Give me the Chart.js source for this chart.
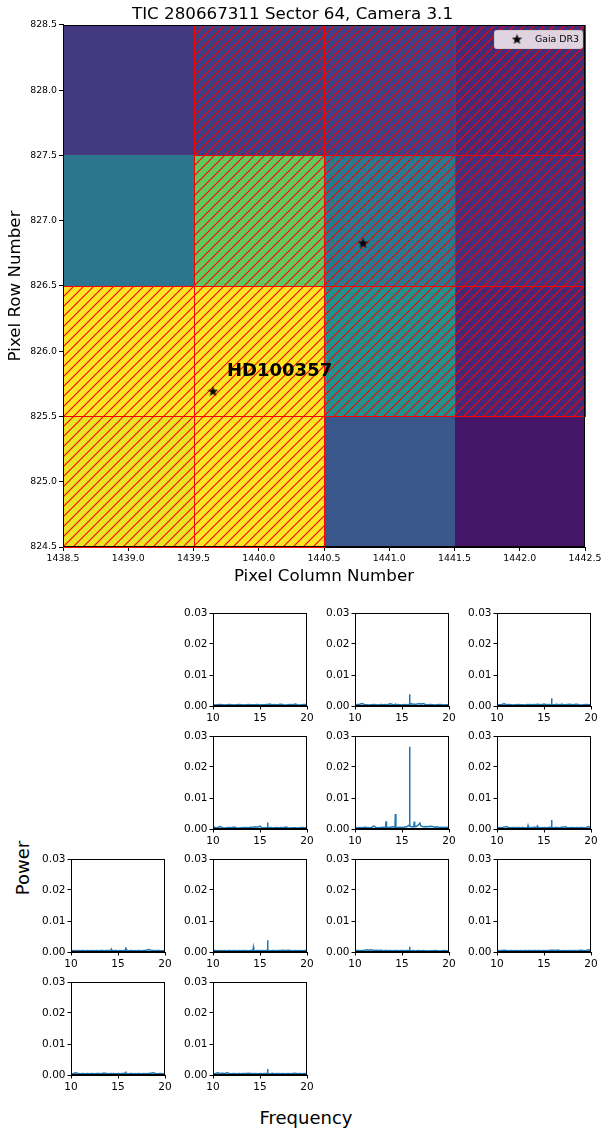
<!DOCTYPE html>
<html>
<head>
<meta charset="utf-8">
<script src="https://cdn.jsdelivr.net/npm/chart.js@4.4.1/dist/chart.umd.min.js"></script>
<style>
  html, body { margin: 0; padding: 0; background: #fff; }
  #fig { position: relative; width: 601px; height: 1132px; overflow: hidden; font-family: 'DejaVu Sans', sans-serif; }
  #fig canvas { position: absolute; }
  .suplabel { position: absolute; font-size: 18px; color: #000; white-space: nowrap; transform: translate(-50%, -50%); }
  #power-label { left: 22px; top: 868px; transform: translate(-50%, -50%) rotate(-90deg); }
  #freq-label { left: 306px; top: 1117px; }
</style>
</head>
<body>
<div id="fig">
  <canvas id="tpf" width="601" height="592" style="left:0;top:0"></canvas>
  <div class="suplabel" id="power-label">Power</div>
  <div class="suplabel" id="freq-label">Frequency</div>
</div>
<script>
// ========================= DADOS =========================
// pixel grid of the target pixel file (rows listed top to bottom)
const columns = [1439, 1440, 1441, 1442];
const rows = [828, 827, 826, 825];
// normalised flux per pixel (0 = faintest, 1 = brightest)
const flux = [
    [0.166, 0.181, 0.185, 0.122],
    [0.392, 0.756, 0.400, 0.140],
    [1.000, 1.000, 0.500, 0.112],
    [0.970, 1.000, 0.270, 0.060]
];
// aperture mask (hatched pixels)
const aperture = [
    [false, true, true, true],
    [false, true, true, true],
    [true, true, true, true],
    [true, true, false, false]
];
// Gaia DR3 sources
const gaiaCol = [1439.649, 1440.799];
const gaiaRow = [825.695, 826.830];
const targetName = 'HD100357';
const targetLabelCol = 1439.757;
const targetLabelRow = 825.845;

// periodogram frequency grid
const freq = [
    10.0, 10.25, 10.5, 10.75, 11.0, 11.25, 11.5, 11.75, 12.0, 12.25,
    12.5, 12.75, 13.0, 13.25, 13.3, 13.35, 13.5, 13.75, 14.0, 14.25,
    14.3, 14.35, 14.5, 14.75, 15.0, 15.25, 15.5, 15.75, 15.8, 15.85,
    16.0, 16.25, 16.3, 16.35, 16.5, 16.75, 16.9, 17.0, 17.25, 17.5,
    17.75, 18.0, 18.25, 18.5, 18.75, 19.0, 19.25, 19.5, 19.75, 20.0
];
const power1440_828 = [
    0.0004,0.0003,0.0004,0.0005,0.0004,0.0003,0.0004,0.0005,0.0004,0.0003,
    0.0004,0.0005,0.0004,0.0003,0.0004,0.0004,0.0003,0.0005,0.0004,0.0004,
    0.0004,0.0003,0.0004,0.0005,0.0003,0.0004,0.0004,0.0005,0.0006,0.0004,
    0.0006,0.0004,0.0003,0.0004,0.0005,0.0004,0.0004,0.0005,0.0006,0.0004,
    0.0003,0.0004,0.0005,0.0004,0.0006,0.0004,0.0003,0.0004,0.0005,0.0004
];
const power1441_828 = [
    0.0004,0.0005,0.0006,0.0008,0.0005,0.0004,0.0003,0.0004,0.0005,0.0004,
    0.0003,0.0005,0.0004,0.0005,0.0004,0.0004,0.0005,0.0007,0.0005,0.0004,
    0.0006,0.0004,0.0005,0.0004,0.0003,0.0005,0.0004,0.0005,0.0038,0.0006,
    0.0007,0.0005,0.0006,0.0005,0.0006,0.0007,0.0008,0.0006,0.0008,0.0005,
    0.0004,0.0005,0.0004,0.0003,0.0004,0.0005,0.0004,0.0003,0.0004,0.0004
];
const power1442_828 = [
    0.0004,0.0004,0.0005,0.0007,0.0004,0.0005,0.0004,0.0003,0.0004,0.0005,
    0.0004,0.0004,0.0003,0.0005,0.0004,0.0004,0.0005,0.0004,0.0005,0.0004,
    0.0006,0.0004,0.0005,0.0004,0.0006,0.0004,0.0005,0.0004,0.0025,0.0005,
    0.0004,0.0005,0.0006,0.0004,0.0005,0.0004,0.0006,0.0005,0.0004,0.0005,
    0.0006,0.0004,0.0005,0.0006,0.0004,0.0003,0.0004,0.0005,0.0004,0.0004
];
const power1440_827 = [
    0.0008,0.0004,0.0005,0.0008,0.0004,0.0003,0.0004,0.0005,0.0004,0.0006,
    0.0004,0.0003,0.0004,0.0005,0.0004,0.0004,0.0005,0.0004,0.0006,0.0005,
    0.0006,0.0005,0.0007,0.0006,0.0009,0.0003,0.0004,0.0005,0.0021,0.0004,
    0.0004,0.0005,0.0004,0.0003,0.0004,0.0005,0.0004,0.0004,0.0005,0.0004,
    0.0006,0.0004,0.0003,0.0004,0.0004,0.0003,0.0004,0.0005,0.0004,0.0005
];
const power1441_827 = [
    0.0005,0.0004,0.0005,0.0004,0.0006,0.0005,0.0004,0.0005,0.0009,0.0005,
    0.0004,0.0005,0.0006,0.0005,0.0025,0.0006,0.0005,0.0006,0.0007,0.0006,
    0.0048,0.0006,0.0005,0.0006,0.0005,0.0006,0.0007,0.0012,0.0265,0.0010,
    0.0007,0.0008,0.0024,0.0007,0.0008,0.0013,0.0019,0.0010,0.0007,0.0008,
    0.0007,0.0009,0.0008,0.0006,0.0007,0.0005,0.0006,0.0005,0.0006,0.0005
];
const power1442_827 = [
    0.0004,0.0005,0.0004,0.0006,0.0008,0.0005,0.0004,0.0005,0.0004,0.0005,
    0.0004,0.0005,0.0004,0.0005,0.0011,0.0005,0.0004,0.0005,0.0006,0.0005,
    0.0009,0.0006,0.0005,0.0004,0.0005,0.0004,0.0005,0.0006,0.0029,0.0005,
    0.0004,0.0005,0.0004,0.0005,0.0004,0.0005,0.0006,0.0005,0.0007,0.0005,
    0.0004,0.0005,0.0004,0.0005,0.0004,0.0005,0.0004,0.0005,0.0008,0.0005
];
const power1439_826 = [
    0.0004,0.0005,0.0004,0.0005,0.0004,0.0005,0.0004,0.0005,0.0004,0.0005,
    0.0004,0.0005,0.0004,0.0005,0.0004,0.0005,0.0004,0.0005,0.0005,0.0006,
    0.0009,0.0005,0.0004,0.0005,0.0004,0.0005,0.0004,0.0006,0.0015,0.0010,
    0.0005,0.0004,0.0005,0.0004,0.0005,0.0004,0.0005,0.0004,0.0005,0.0004,
    0.0005,0.0006,0.0008,0.0006,0.0005,0.0004,0.0005,0.0004,0.0004,0.0004
];
const power1440_826 = [
    0.0004,0.0005,0.0004,0.0005,0.0004,0.0005,0.0004,0.0005,0.0004,0.0005,
    0.0004,0.0005,0.0004,0.0005,0.0005,0.0004,0.0005,0.0004,0.0005,0.0005,
    0.0015,0.0005,0.0004,0.0005,0.0004,0.0005,0.0004,0.0006,0.0038,0.0006,
    0.0005,0.0004,0.0005,0.0004,0.0005,0.0004,0.0005,0.0005,0.0005,0.0006,
    0.0005,0.0006,0.0005,0.0004,0.0005,0.0004,0.0005,0.0004,0.0005,0.0004
];
const power1441_826 = [
    0.0004,0.0005,0.0004,0.0005,0.0005,0.0007,0.0006,0.0007,0.0005,0.0006,
    0.0005,0.0006,0.0004,0.0005,0.0004,0.0005,0.0004,0.0005,0.0004,0.0005,
    0.0005,0.0004,0.0005,0.0004,0.0005,0.0004,0.0005,0.0005,0.0017,0.0006,
    0.0004,0.0005,0.0004,0.0003,0.0004,0.0005,0.0004,0.0004,0.0005,0.0004,
    0.0003,0.0004,0.0004,0.0005,0.0004,0.0003,0.0004,0.0005,0.0004,0.0004
];
const power1442_826 = [
    0.0005,0.0004,0.0005,0.0006,0.0005,0.0004,0.0005,0.0004,0.0005,0.0004,
    0.0005,0.0004,0.0005,0.0004,0.0005,0.0004,0.0005,0.0004,0.0005,0.0004,
    0.0005,0.0004,0.0005,0.0004,0.0005,0.0004,0.0005,0.0006,0.0008,0.0006,
    0.0006,0.0005,0.0004,0.0005,0.0006,0.0004,0.0005,0.0004,0.0005,0.0004,
    0.0005,0.0004,0.0005,0.0004,0.0005,0.0006,0.0004,0.0005,0.0007,0.0004
];
const power1439_825 = [
    0.0004,0.0005,0.0007,0.0005,0.0004,0.0005,0.0004,0.0005,0.0004,0.0005,
    0.0004,0.0005,0.0005,0.0004,0.0005,0.0004,0.0006,0.0005,0.0004,0.0005,
    0.0005,0.0004,0.0005,0.0004,0.0005,0.0004,0.0005,0.0006,0.0011,0.0006,
    0.0005,0.0004,0.0005,0.0004,0.0005,0.0004,0.0005,0.0004,0.0005,0.0004,
    0.0005,0.0004,0.0005,0.0006,0.0007,0.0005,0.0004,0.0005,0.0004,0.0004
];
const power1440_825 = [
    0.0004,0.0005,0.0007,0.0005,0.0006,0.0005,0.0007,0.0005,0.0004,0.0005,
    0.0004,0.0005,0.0004,0.0005,0.0005,0.0004,0.0005,0.0006,0.0005,0.0004,
    0.0005,0.0004,0.0005,0.0004,0.0005,0.0004,0.0005,0.0005,0.0019,0.0005,
    0.0004,0.0005,0.0004,0.0005,0.0004,0.0005,0.0004,0.0005,0.0004,0.0005,
    0.0004,0.0005,0.0004,0.0005,0.0006,0.0004,0.0005,0.0004,0.0005,0.0004
];
const powerTicks = [0, 0.01, 0.02, 0.03];
const freqTicks = [10, 15, 20];

const panels = [
    { col: 1440, row: 828, power: power1440_828 },
    { col: 1441, row: 828, power: power1441_828 },
    { col: 1442, row: 828, power: power1442_828 },
    { col: 1440, row: 827, power: power1440_827 },
    { col: 1441, row: 827, power: power1441_827 },
    { col: 1442, row: 827, power: power1442_827 },
    { col: 1439, row: 826, power: power1439_826 },
    { col: 1440, row: 826, power: power1440_826 },
    { col: 1441, row: 826, power: power1441_826 },
    { col: 1442, row: 826, power: power1442_826 },
    { col: 1439, row: 825, power: power1439_825 },
    { col: 1440, row: 825, power: power1440_825 }
];

// ========================= ESTILO =========================
Chart.defaults.font.family = "'DejaVu Sans', sans-serif";
Chart.defaults.color = '#000';

const viridisStops = ['#440154', '#482475', '#414487', '#355f8d', '#2a788e', '#21918c',
                      '#22a884', '#44bf70', '#7ad151', '#bddf26', '#fde725'];

function viridis(v) {
    const t = Math.max(0, Math.min(1, v)) * (viridisStops.length - 1);
    const i = Math.min(Math.floor(t), viridisStops.length - 2);
    const f = t - i;
    const a = parseInt(viridisStops[i].slice(1), 16);
    const b = parseInt(viridisStops[i + 1].slice(1), 16);
    const ch = s => Math.round(((a >> s) & 255) * (1 - f) + ((b >> s) & 255) * f);
    return `rgb(${ch(16)}, ${ch(8)}, ${ch(0)})`;
}

// filled five-point star used as marker
function makeStar(size) {
    const c = document.createElement('canvas');
    c.width = size; c.height = size;
    const g = c.getContext('2d');
    const cx = size / 2, cy = size / 2 + 0.5, ro = size / 2, ri = ro * 0.42;
    g.beginPath();
    for (let k = 0; k < 10; k++) {
        const r = k % 2 === 0 ? ro : ri;
        const a = -Math.PI / 2 + k * Math.PI / 5;
        g.lineTo(cx + r * Math.cos(a), cy + r * Math.sin(a));
    }
    g.closePath();
    g.fillStyle = '#000';
    g.fill();
    return c;
}
const starMarker = makeStar(11);

function makeHatch(ctx, step) {
    const c = document.createElement('canvas');
    c.width = step; c.height = step;
    const g = c.getContext('2d');
    g.strokeStyle = '#ff0000';
    g.lineWidth = 1.1;
    g.beginPath();
    g.moveTo(0, step); g.lineTo(step, 0);
    g.moveTo(-1, 1); g.lineTo(1, -1);
    g.moveTo(step - 1, step + 1); g.lineTo(step + 1, step - 1);
    g.stroke();
    return ctx.createPattern(c, 'repeat');
}

// ========================= IMAGEM DO PIXEL =========================
const tpfPlugin = {
    id: 'tpfPixels',
    beforeDatasetsDraw(chart) {
        const { ctx, scales: { x, y } } = chart;
        const cell = (col, row) => {
            const x0 = Math.round(x.getPixelForValue(col - 0.5));
            const x1 = Math.round(x.getPixelForValue(col + 0.5));
            const y0 = Math.round(y.getPixelForValue(row + 0.5));
            const y1 = Math.round(y.getPixelForValue(row - 0.5));
            return [x0, y0, x1 - x0, y1 - y0];
        };
        ctx.save();
        rows.forEach((row, r) => columns.forEach((col, c) => {
            ctx.fillStyle = viridis(flux[r][c]);
            ctx.fillRect(...cell(col, row));
        }));
        ctx.fillStyle = makeHatch(ctx, 10);
        rows.forEach((row, r) => columns.forEach((col, c) => {
            if (aperture[r][c]) ctx.fillRect(...cell(col, row));
        }));
        ctx.strokeStyle = '#ff0000';
        ctx.lineWidth = 1;
        rows.forEach((row, r) => columns.forEach((col, c) => {
            if (!aperture[r][c]) return;
            const [cx, cy, w, h] = cell(col, row);
            ctx.strokeRect(cx + 0.5, cy + 0.5, w, h);
        }));
        ctx.restore();
    },
    afterDatasetsDraw(chart) {
        const { ctx, chartArea: a, scales: { x, y } } = chart;
        ctx.save();
        // frame
        ctx.strokeStyle = '#000';
        ctx.lineWidth = 1;
        ctx.strokeRect(Math.round(a.left) + 0.5, Math.round(a.top) + 0.5,
                       Math.round(a.right - a.left) - 1, Math.round(a.bottom - a.top) - 1);
        // target name
        ctx.font = "bold 18px 'DejaVu Sans'";
        ctx.fillStyle = '#000';
        ctx.textBaseline = 'middle';
        ctx.textAlign = 'left';
        ctx.fillText(targetName, x.getPixelForValue(targetLabelCol), y.getPixelForValue(targetLabelRow));
        // legend
        const bw = 88, bh = 18, bx = a.right - 3 - bw, by = a.top + 5;
        ctx.beginPath();
        ctx.roundRect(bx + 0.5, by + 0.5, bw, bh, 2);
        ctx.fillStyle = 'rgba(255,255,255,0.8)';
        ctx.fill();
        ctx.strokeStyle = '#cccccc';
        ctx.stroke();
        ctx.drawImage(starMarker, bx + 23 - 5.5, by + 9 - 5.5);
        ctx.fillStyle = '#000';
        ctx.font = "9.4px 'DejaVu Sans'";
        ctx.fillText(chart.data.datasets[0].label, bx + 41, by + 10);
        ctx.restore();
    }
};

new Chart(document.getElementById('tpf'), {
    type: 'scatter',
    data: {
        datasets: [{
            label: 'Gaia DR3',
            data: gaiaCol.map((c, i) => ({ x: c, y: gaiaRow[i] })),
            pointStyle: starMarker,
            pointRadius: 5,
            backgroundColor: '#000',
            borderColor: '#000'
        }]
    },
    options: {
        responsive: false,
        animation: false,
        events: [],
        layout: { padding: { left: 0, right: 16, top: 0, bottom: 0 } },
        plugins: {
            legend: { display: false },
            tooltip: { enabled: false },
            title: {
                display: true,
                text: 'TIC 280667311 Sector 64, Camera 3.1',
                color: '#000',
                font: { size: 16.7, weight: 'normal', lineHeight: 1.1 },
                padding: { top: 5, bottom: 1.6 }
            }
        },
        scales: {
            x: {
                type: 'linear', min: 1438.5, max: 1442.5,
                ticks: { stepSize: 0.5, callback: v => v.toFixed(1), font: { size: 9.4 }, padding: 2, maxRotation: 0, autoSkip: false },
                grid: { drawOnChartArea: false, tickLength: 4, tickColor: '#000' },
                border: { color: '#000' },
                title: { display: true, text: 'Pixel Column Number', font: { size: 16.7 }, padding: { top: 0, bottom: 5 } },
                afterFit: s => { s.height = 45; s.paddingLeft = 0; s.paddingRight = 0; }
            },
            y: {
                type: 'linear', min: 824.5, max: 828.5,
                ticks: { stepSize: 0.5, callback: v => v.toFixed(1), font: { size: 9.4 }, padding: 2, autoSkip: false },
                grid: { drawOnChartArea: false, tickLength: 4, tickColor: '#000' },
                border: { color: '#000' },
                title: { display: true, text: 'Pixel Row Number', font: { size: 16.7 }, padding: { top: 6, bottom: 0 } },
                afterFit: s => { s.width = 63; s.paddingTop = 0; s.paddingBottom = 0; }
            }
        }
    },
    plugins: [tpfPlugin]
});

// ========================= PERIODOGRAMAS =========================
const framePlugin = {
    id: 'frame',
    afterDatasetsDraw(chart) {
        const { ctx, chartArea: a } = chart;
        ctx.save();
        ctx.strokeStyle = '#000';
        ctx.lineWidth = 1;
        ctx.strokeRect(Math.round(a.left) + 0.5, Math.round(a.top) + 0.5,
                       Math.round(a.right - a.left) - 1, Math.round(a.bottom - a.top) - 1);
        ctx.restore();
    }
};

const fig = document.getElementById('fig');
const plotW = 94, plotH = 93, padL = 44, padT = 7, padR = 8, padB = 22;

panels.forEach(p => {
    const left = 71 + (p.col - columns[0]) * 142;
    const top = 613 + (rows[0] - p.row) * 123;
    const cv = document.createElement('canvas');
    cv.width = padL + plotW + padR;
    cv.height = padT + plotH + padB;
    cv.style.left = (left - padL) + 'px';
    cv.style.top = (top - padT) + 'px';
    fig.appendChild(cv);

    new Chart(cv, {
        type: 'line',
        data: {
            datasets: [{
                data: freq.map((f, i) => ({ x: f, y: p.power[i] })),
                borderColor: '#1f77b4',
                borderWidth: 1.5,
                pointRadius: 0,
                tension: 0,
                fill: false
            }]
        },
        options: {
            responsive: false,
            animation: false,
            events: [],
            layout: { padding: { left: 0, right: padR, top: padT, bottom: 0 } },
            plugins: { legend: { display: false }, tooltip: { enabled: false } },
            scales: {
                x: {
                    type: 'linear', min: freqTicks[0], max: freqTicks[freqTicks.length - 1],
                    afterBuildTicks: s => { s.ticks = freqTicks.map(v => ({ value: v })); },
                    ticks: { callback: v => String(v), font: { size: 10.5 }, padding: 2, maxRotation: 0, autoSkip: false },
                    grid: { drawOnChartArea: false, tickLength: 3.5, tickColor: '#000' },
                    border: { color: '#000' },
                    afterFit: s => { s.height = padB; s.paddingLeft = 0; s.paddingRight = 0; }
                },
                y: {
                    type: 'linear', min: powerTicks[0], max: powerTicks[powerTicks.length - 1],
                    afterBuildTicks: s => { s.ticks = powerTicks.map(v => ({ value: v })); },
                    ticks: { callback: v => v.toFixed(2), font: { size: 10.5 }, padding: 2, autoSkip: false },
                    grid: { drawOnChartArea: false, tickLength: 3.5, tickColor: '#000' },
                    border: { color: '#000' },
                    afterFit: s => { s.width = padL; s.paddingTop = 0; s.paddingBottom = 0; }
                }
            }
        },
        plugins: [framePlugin]
    });
});
</script>
</body>
</html>
